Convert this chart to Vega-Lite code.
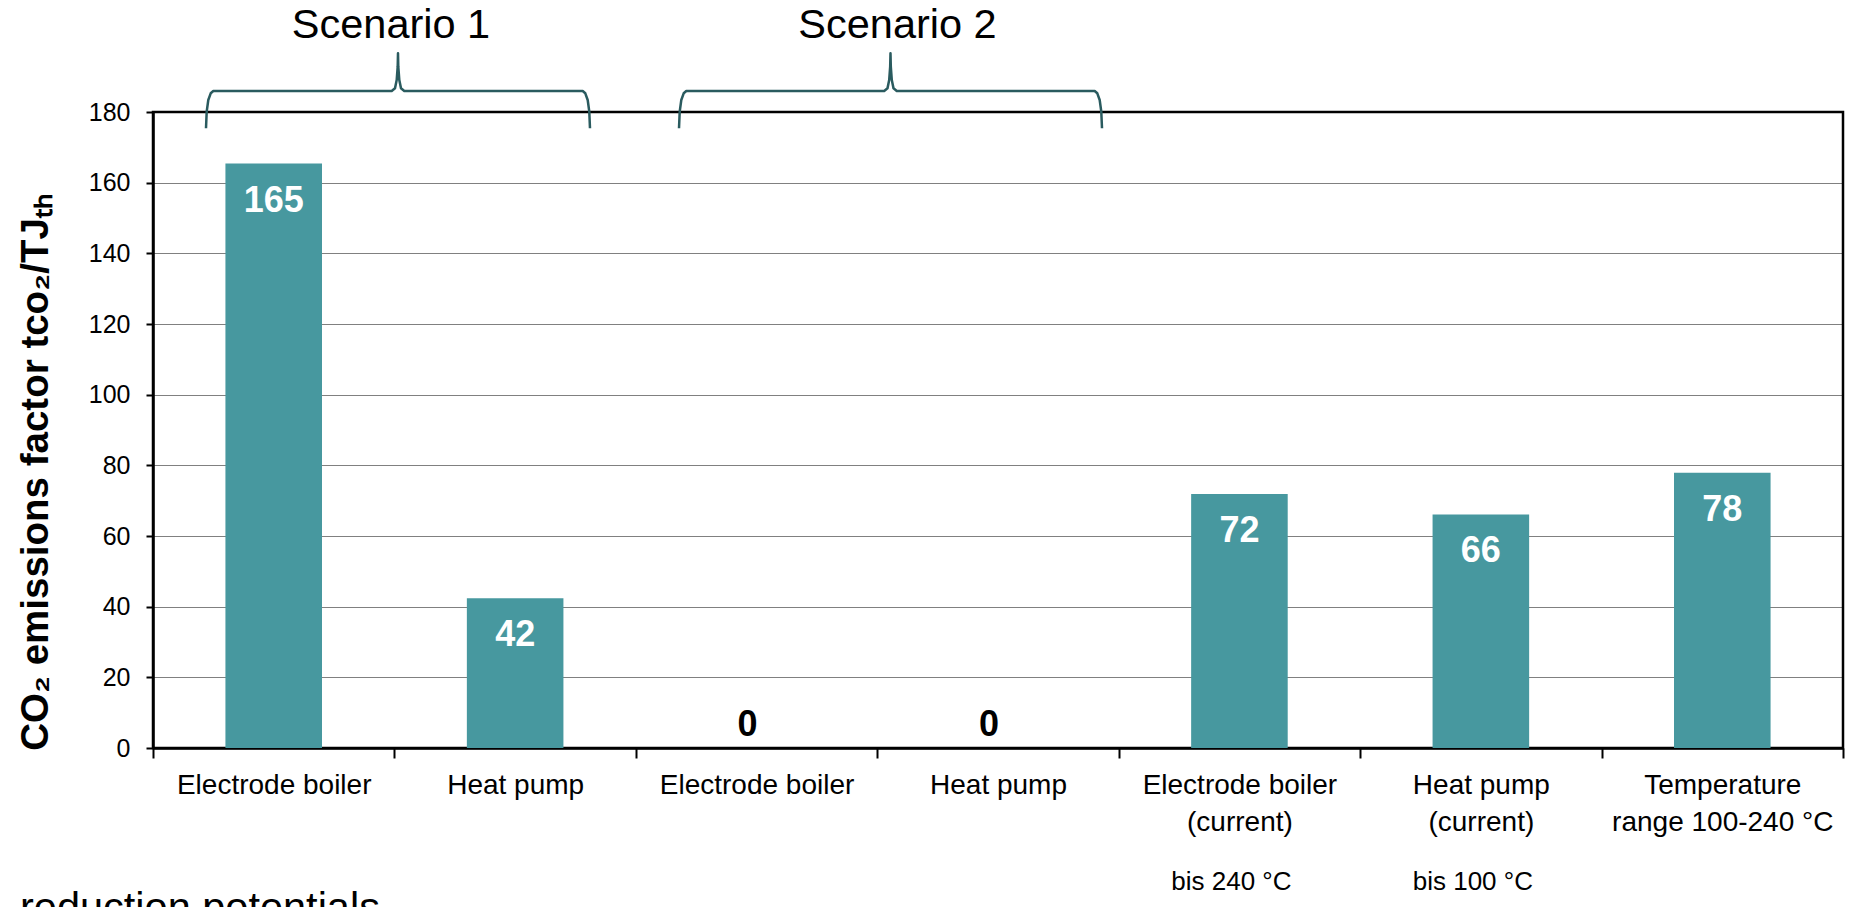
{
  "$schema": "https://vega.github.io/schema/vega-lite/v6.json",
  "autosize": {"type": "none"},
  "width": 1690,
  "height": 636,
  "padding": {"left": 153, "top": 112, "right": 11, "bottom": 159},
  "background": "white",
  "config": {
    "font": "Liberation Sans",
    "view": {"stroke": "black", "strokeWidth": 2.5}
  },
  "datasets": {
    "bars": [
      {"cat": "1|Electrode boiler", "value": 165.4},
      {"cat": "2|Heat pump", "value": 42.4},
      {"cat": "3|Electrode boiler", "value": 0},
      {"cat": "4|Heat pump", "value": 0},
      {"cat": "5|Electrode boiler|(current)", "value": 71.9, "note": "bis 240 °C"},
      {"cat": "6|Heat pump|(current)", "value": 66.1, "note": "bis 100 °C"},
      {"cat": "7|Temperature|range 100-240 °C", "value": 77.9}
    ],
    "braces": [
      {"brace": "Scenario 1", "i": 0, "u": 0.2195, "v": 175.39},
      {"brace": "Scenario 1", "i": 1, "u": 0.2224, "v": 180.09},
      {"brace": "Scenario 1", "i": 2, "u": 0.2290, "v": 183.40},
      {"brace": "Scenario 1", "i": 3, "u": 0.2390, "v": 185.29},
      {"brace": "Scenario 1", "i": 4, "u": 0.2498, "v": 185.94},
      {"brace": "Scenario 1", "i": 5, "u": 0.9887, "v": 185.94},
      {"brace": "Scenario 1", "i": 6, "u": 1.0024, "v": 186.71},
      {"brace": "Scenario 1", "i": 7, "u": 1.0094, "v": 189.06},
      {"brace": "Scenario 1", "i": 8, "u": 1.0135, "v": 192.82},
      {"brace": "Scenario 1", "i": 9, "u": 1.0148, "v": 196.61},
      {"brace": "Scenario 1", "i": 10, "u": 1.0160, "v": 192.82},
      {"brace": "Scenario 1", "i": 11, "u": 1.0202, "v": 189.06},
      {"brace": "Scenario 1", "i": 12, "u": 1.0272, "v": 186.71},
      {"brace": "Scenario 1", "i": 13, "u": 1.0409, "v": 185.94},
      {"brace": "Scenario 1", "i": 14, "u": 1.7798, "v": 185.94},
      {"brace": "Scenario 1", "i": 15, "u": 1.7906, "v": 185.29},
      {"brace": "Scenario 1", "i": 16, "u": 1.8005, "v": 183.40},
      {"brace": "Scenario 1", "i": 17, "u": 1.8071, "v": 180.09},
      {"brace": "Scenario 1", "i": 18, "u": 1.8100, "v": 175.39},
      {"brace": "Scenario 2", "i": 0, "u": 2.1787, "v": 175.39},
      {"brace": "Scenario 2", "i": 1, "u": 2.1816, "v": 180.09},
      {"brace": "Scenario 2", "i": 2, "u": 2.1882, "v": 183.40},
      {"brace": "Scenario 2", "i": 3, "u": 2.1981, "v": 185.29},
      {"brace": "Scenario 2", "i": 4, "u": 2.2089, "v": 185.94},
      {"brace": "Scenario 2", "i": 5, "u": 3.0286, "v": 185.94},
      {"brace": "Scenario 2", "i": 6, "u": 3.0423, "v": 186.71},
      {"brace": "Scenario 2", "i": 7, "u": 3.0493, "v": 189.06},
      {"brace": "Scenario 2", "i": 8, "u": 3.0534, "v": 192.82},
      {"brace": "Scenario 2", "i": 9, "u": 3.0547, "v": 196.61},
      {"brace": "Scenario 2", "i": 10, "u": 3.0560, "v": 192.82},
      {"brace": "Scenario 2", "i": 11, "u": 3.0601, "v": 189.06},
      {"brace": "Scenario 2", "i": 12, "u": 3.0671, "v": 186.71},
      {"brace": "Scenario 2", "i": 13, "u": 3.0808, "v": 185.94},
      {"brace": "Scenario 2", "i": 14, "u": 3.9005, "v": 185.94},
      {"brace": "Scenario 2", "i": 15, "u": 3.9113, "v": 185.29},
      {"brace": "Scenario 2", "i": 16, "u": 3.9212, "v": 183.40},
      {"brace": "Scenario 2", "i": 17, "u": 3.9278, "v": 180.09},
      {"brace": "Scenario 2", "i": 18, "u": 3.9308, "v": 175.39}
    ],
    "scenarios": [
      {"text": "Scenario 1", "u": 0.9858, "v": 200.86},
      {"text": "Scenario 2", "u": 3.0837, "v": 200.86}
    ],
    "footnote": [
      {"text": "reduction potentials", "u": -0.5509, "v": -48.96}
    ]
  },
  "layer": [
    {
      "data": {"name": "bars"},
      "layer": [
        {
          "mark": {"type": "bar", "color": "#47989f", "width": {"band": 0.4}},
          "encoding": {
            "x": {
              "field": "cat", "type": "nominal", "sort": null,
              "scale": {"paddingInner": 0, "paddingOuter": 0},
              "axis": {
                "title": null,
                "labelExpr": "slice(split(datum.value, '|'), 1)",
                "labelAngle": 0,
                "labelFontSize": 28,
                "labelColor": "black",
                "labelLineHeight": 37,
                "labelBaseline": "top",
                "labelPadding": 13,
                "labelLimit": 0,
                "tickBand": "extent",
                "tickSize": 10,
                "tickWidth": 2,
                "tickColor": "black",
                "domainColor": "black",
                "domainWidth": 2.5,
                "grid": false
              }
            },
            "y": {
              "field": "value", "type": "quantitative",
              "scale": {"domain": [0, 180], "nice": false},
              "axis": {
                "title": "CO₂ emissions factor tᴄᴏ₂/TJₜₕ",
                "titleFontSize": 38.5,
                "titleFontWeight": "bold",
                "titleColor": "black",
                "titleAngle": 270,
                "titleAlign": "center",
                "titleBaseline": "alphabetic",
                "titleX": -106,
                "titleY": 360,
                "values": [0, 20, 40, 60, 80, 100, 120, 140, 160, 180],
                "labelFontSize": 25,
                "labelColor": "black",
                "labelPadding": 16,
                "tickSize": 7,
                "tickWidth": 2,
                "tickColor": "black",
                "domainColor": "black",
                "domainWidth": 2.5,
                "grid": true,
                "gridColor": "#000000",
                "gridDash": [1, 1],
                "gridWidth": 1.2
              }
            }
          }
        },
        {
          "transform": [{"filter": "datum.value > 1"}],
          "mark": {"type": "text", "color": "white", "fontWeight": "bold", "fontSize": 36, "baseline": "middle", "dy": 37},
          "encoding": {
            "x": {"field": "cat", "type": "nominal", "sort": null},
            "y": {"field": "value", "type": "quantitative", "scale": {"domain": [0, 180], "nice": false}},
            "text": {"field": "value", "type": "quantitative", "format": ".0f"}
          }
        },
        {
          "transform": [{"filter": "datum.value <= 1"}],
          "mark": {"type": "text", "color": "black", "fontWeight": "bold", "fontSize": 36, "baseline": "middle", "dy": -23, "dx": -9},
          "encoding": {
            "x": {"field": "cat", "type": "nominal", "sort": null},
            "y": {"field": "value", "type": "quantitative", "scale": {"domain": [0, 180], "nice": false}},
            "text": {"field": "value", "type": "quantitative", "format": ".0f"}
          }
        },
        {
          "transform": [{"filter": "datum.note != null"}],
          "mark": {"type": "text", "color": "black", "fontSize": 26, "baseline": "alphabetic", "dx": -8},
          "encoding": {
            "x": {"field": "cat", "type": "nominal", "sort": null},
            "y": {"datum": -40.2, "type": "quantitative", "scale": {"domain": [0, 180], "nice": false}},
            "text": {"field": "note", "type": "nominal"}
          }
        }
      ]
    },
    {
      "layer": [
        {
          "data": {"name": "braces"},
          "mark": {"type": "line", "color": "#2a5b5f", "strokeWidth": 2.5, "strokeJoin": "round"},
          "encoding": {
            "x": {"field": "u", "type": "quantitative", "scale": {"domain": [0, 7], "nice": false, "zero": false}, "axis": null},
            "y": {"field": "v", "type": "quantitative", "scale": {"domain": [0, 180], "nice": false}, "axis": null},
            "detail": {"field": "brace", "type": "nominal"},
            "order": {"field": "i", "type": "quantitative"}
          }
        },
        {
          "data": {"name": "scenarios"},
          "mark": {"type": "text", "color": "black", "fontSize": 41.5, "align": "center", "baseline": "alphabetic"},
          "encoding": {
            "x": {"field": "u", "type": "quantitative", "scale": {"domain": [0, 7], "nice": false, "zero": false}, "axis": null},
            "y": {"field": "v", "type": "quantitative", "scale": {"domain": [0, 180], "nice": false}, "axis": null},
            "text": {"field": "text", "type": "nominal"}
          }
        },
        {
          "data": {"name": "footnote"},
          "mark": {"type": "text", "color": "black", "fontSize": 41.5, "align": "left", "baseline": "alphabetic"},
          "encoding": {
            "x": {"field": "u", "type": "quantitative", "scale": {"domain": [0, 7], "nice": false, "zero": false}, "axis": null},
            "y": {"field": "v", "type": "quantitative", "scale": {"domain": [0, 180], "nice": false}, "axis": null},
            "text": {"field": "text", "type": "nominal"}
          }
        }
      ]
    }
  ],
  "resolve": {"scale": {"x": "independent", "y": "independent"}}
}
